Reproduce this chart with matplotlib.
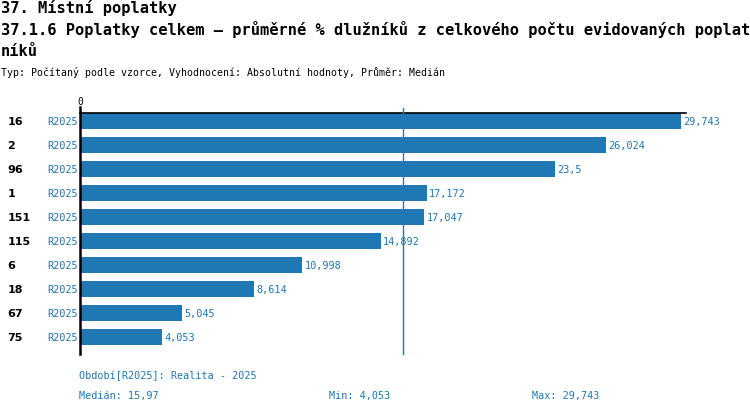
import matplotlib
matplotlib.use("Agg")
import matplotlib.pyplot as plt

categories = ["16", "2", "96", "1", "151", "115", "6", "18", "67", "75"]
series_labels = ["R2025"] * 10
values = [29.743, 26.024, 23.5, 17.172, 17.047, 14.892, 10.998, 8.614, 5.045, 4.053]
value_labels = ["29,743", "26,024", "23,5", "17,172", "17,047", "14,892", "10,998", "8,614", "5,045", "4,053"]
median = 15.97

title1 = "37. Místní poplatky"
title2 = "37.1.6 Poplatky celkem – průměrné % dlužníků z celkového počtu evidovaných poplat"
title3 = "níků"
subtitle = "Typ: Počítaný podle vzorce, Vyhodnocení: Absolutní hodnoty, Průměr: Medián"
footer1 = "Období[R2025]: Realita - 2025"
footer_med = "Medián: 15,97"
footer_min = "Min: 4,053"
footer_max = "Max: 29,743"

W, H = 750, 414
BLUE = "#1f77b4"
MONO = ["DejaVu Sans Mono", "DejaVu Sans"]

fig = plt.figure(figsize=(W / 100, H / 100), dpi=100)

def fx(px):
    return px / W

def fy(py):
    return 1 - py / H

ax_left, ax_right = 80, 686
ax_top, ax_bot = 114, 355
ax = fig.add_axes([fx(ax_left), fy(ax_bot), fx(ax_right - ax_left), (ax_bot - ax_top) / H])

n = len(categories)
ypos = list(range(n))
ax.barh(ypos, values, height=0.63, color=BLUE, zorder=2)
ax.set_xlim(0, 30)
ax.set_ylim(9.708, -0.333)
for s in ax.spines.values():
    s.set_visible(False)
ax.set_xticks([])
ax.set_yticks([])

for y, v, lab in zip(ypos, values, value_labels):
    ax.text(v + 0.12, y, lab, color=BLUE, fontsize=7.4, family=MONO,
            va="center", ha="left")
for y, c, s in zip(ypos, categories, series_labels):
    ax.text(-0.12, y, s, color=BLUE, fontsize=7.4, family=MONO, va="center", ha="right")
    ax.text(-3.6, y, c, color="black", fontsize=8, fontweight="bold",
            va="center", ha="left", clip_on=False)

# top horizontal line
ax.plot([0, 30], [-0.333, -0.333], color="black", lw=1.2, clip_on=False, zorder=3)
# left axis line
ax.plot([0, 0], [-0.6, 9.708], color="black", lw=1.8, clip_on=False, zorder=3)
# median line
ax.plot([median, median], [-0.55, 9.708], color=BLUE, lw=1.0, clip_on=False, zorder=3)
ax.text(0, -0.62, "0", fontsize=7, family=MONO, ha="center", va="bottom", color="black")

fig.text(0.001, fy(8), title1, fontsize=11.05, fontweight="bold", family=MONO, va="center", ha="left")
fig.text(0.001, fy(30), title2, fontsize=11.05, fontweight="bold", family=MONO, va="center", ha="left")
fig.text(0.001, fy(51), title3, fontsize=11.05, fontweight="bold", family=MONO, va="center", ha="left")
fig.text(0.001, fy(73), subtitle, fontsize=7.1, family=MONO, va="center", ha="left")

fig.text(fx(79), fy(376), footer1, fontsize=7.3, family=MONO, color=BLUE, va="center", ha="left")
fig.text(fx(79), fy(396), footer_med, fontsize=7.3, family=MONO, color=BLUE, va="center", ha="left")
fig.text(fx(329), fy(396), footer_min, fontsize=7.3, family=MONO, color=BLUE, va="center", ha="left")
fig.text(fx(532), fy(396), footer_max, fontsize=7.3, family=MONO, color=BLUE, va="center", ha="left")

fig.savefig("out.png", dpi=100)
